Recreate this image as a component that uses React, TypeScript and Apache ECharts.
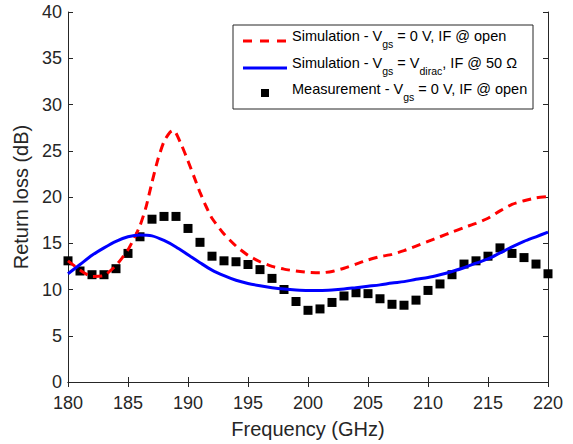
import React, { useEffect, useRef } from "react";
import * as echarts from "echarts";

// Measurement (Vgs = 0 V, IF @ open)
const measFreq = [180, 181, 182, 183, 184, 185, 186, 187, 188, 189, 190, 191, 192, 193, 194, 195, 196, 197, 198, 199, 200, 201, 202, 203, 204, 205, 206, 207, 208, 209, 210, 211, 212, 213, 214, 215, 216, 217, 218, 219, 220];
const measRL = [13.1, 12.0, 11.6, 11.6, 12.25, 13.9, 15.7, 17.6, 17.9, 17.9, 16.6, 15.1, 13.6, 13.1, 13.0, 12.7, 12.15, 11.2, 10.0, 8.7, 7.75, 7.9, 8.6, 9.3, 9.65, 9.55, 9.0, 8.4, 8.3, 8.85, 9.9, 10.6, 11.6, 12.75, 13.1, 13.6, 14.5, 13.9, 13.45, 12.75, 11.7];

// Simulation - Vgs = 0 V, IF @ open
const simOpenFreq = [180, 181, 182, 183, 184, 184.5, 185, 185.5, 186, 186.5, 187, 187.5, 188, 188.5, 188.8, 189, 189.5, 190, 190.5, 191, 191.5, 192, 193, 194, 195, 196, 197, 198, 199, 200, 201, 202, 203, 204, 205, 206, 207, 208, 209, 210, 211, 212, 213, 214, 215, 216, 217, 218, 219, 220];
const simOpenRL = [13.1, 12.1, 11.4, 11.5, 12.6, 13.4, 14.3, 15.5, 16.9, 18.9, 21.6, 24.1, 26.0, 27.0, 27.2, 26.9, 25.5, 23.9, 22.2, 20.5, 19.0, 17.7, 16.0, 14.7, 13.7, 13.0, 12.5, 12.2, 12.0, 11.85, 11.8, 11.95, 12.3, 12.75, 13.2, 13.55, 13.8, 14.2, 14.7, 15.2, 15.7, 16.2, 16.7, 17.15, 17.7, 18.5, 19.2, 19.6, 19.9, 20.05];

// Simulation - Vgs = Vdirac, IF @ 50 Ω
const sim50Freq = [180, 181, 182, 183, 184, 185, 186, 187, 188, 189, 190, 191, 192, 193, 194, 195, 196, 197, 198, 199, 200, 201, 202, 203, 204, 205, 206, 207, 208, 209, 210, 211, 212, 213, 214, 215, 216, 217, 218, 219, 220];
const sim50RL = [11.7, 12.7, 13.7, 14.5, 15.2, 15.7, 15.9, 15.8, 15.3, 14.6, 13.75, 12.9, 12.1, 11.5, 11.0, 10.65, 10.4, 10.2, 10.05, 9.95, 9.9, 9.9, 9.95, 10.05, 10.2, 10.35, 10.5, 10.7, 10.85, 11.1, 11.3, 11.6, 11.95, 12.35, 12.85, 13.3, 13.95, 14.6, 15.2, 15.7, 16.2];

const xMin = 180, xMax = 220, xStep = 5;
const yMin = 0, yMax = 40, yStep = 5;

const FONT = "'Liberation Sans', Arial, Helvetica, sans-serif";
const AX = "#262626";

const zip = (a: number[], b: number[]) => a.map((v, i) => [v, b[i]]);

export default function App() {
  const ref = useRef<HTMLDivElement>(null);
  useEffect(() => {
    const chart = echarts.init(ref.current!, null, { renderer: "svg" });
    const axisCommon = {
      axisLine: { show: true, lineStyle: { color: AX, width: 1 } },
      axisTick: { show: true, inside: true, length: 5, lineStyle: { color: AX, width: 1 } },
      splitLine: { show: false },
    };
    const rich = {
      n: { fontSize: 14.5, fontFamily: FONT, color: "#000", lineHeight: 18 },
      s: { fontSize: 10.5, fontFamily: FONT, color: "#000", lineHeight: 12, padding: [15, 0, 0, 0] },
    };
    const legendText = (y: number, text: string) => ({
      type: "text",
      x: 292,
      y,
      style: { text, rich, verticalAlign: "top", align: "left", fill: "#000" },
    });
    chart.setOption({
      animation: false,
      backgroundColor: "#fff",
      grid: { left: 68, right: 25, top: 12, bottom: 59, containLabel: false },
      xAxis: [
        {
          type: "value", min: xMin, max: xMax, interval: xStep, position: "bottom",
          ...axisCommon,
          axisLabel: { fontSize: 18, color: AX, margin: 12, fontFamily: FONT },
          name: "Frequency (GHz)", nameLocation: "middle", nameGap: 37,
          nameTextStyle: { fontSize: 20, color: AX, fontFamily: FONT },
        },
        {
          type: "value", min: xMin, max: xMax, interval: xStep, position: "top",
          ...axisCommon, axisLabel: { show: false },
        },
      ],
      yAxis: [
        {
          type: "value", min: yMin, max: yMax, interval: yStep, position: "left",
          ...axisCommon,
          axisLabel: { fontSize: 18, color: AX, margin: 6, fontFamily: FONT },
          name: "Return loss (dB)", nameLocation: "middle", nameGap: 30, nameRotate: 90,
          nameTextStyle: { fontSize: 20, color: AX, fontFamily: FONT },
        },
        {
          type: "value", min: yMin, max: yMax, interval: yStep, position: "right",
          ...axisCommon, axisLabel: { show: false },
        },
      ],
      series: [
        {
          name: "Simulation - Vgs = 0 V, IF @ open",
          type: "line", data: zip(simOpenFreq, simOpenRL), showSymbol: false, smooth: 0.2,
          lineStyle: { color: "#ff0000", width: 3, type: [9, 6] },
        },
        {
          name: "Simulation - Vgs = Vdirac, IF @ 50 Ω",
          type: "line", data: zip(sim50Freq, sim50RL), showSymbol: false, smooth: 0.3,
          lineStyle: { color: "#0000ff", width: 3 },
        },
        {
          name: "Measurement - Vgs = 0 V, IF @ open",
          type: "scatter", data: zip(measFreq, measRL), symbol: "rect", symbolSize: 9,
          itemStyle: { color: "#000", opacity: 1 },
        },
      ],
      graphic: [
        {
          type: "group",
          children: [
            { type: "rect", shape: { x: 233, y: 25, width: 300, height: 84 }, style: { fill: "#fff", stroke: AX, lineWidth: 1 } },
            { type: "line", shape: { x1: 243, y1: 41, x2: 287, y2: 41 }, style: { stroke: "#ff0000", lineWidth: 3, lineDash: [9, 8] } },
            { type: "line", shape: { x1: 243, y1: 68, x2: 287, y2: 68 }, style: { stroke: "#0000ff", lineWidth: 3 } },
            { type: "rect", shape: { x: 261, y: 89, width: 8, height: 8 }, style: { fill: "#000" } },
            legendText(27, "{n|Simulation - V}{s|gs}{n| = 0 V, IF @ open}"),
            legendText(54, "{n|Simulation - V}{s|gs}{n| = V}{s|dirac}{n|, IF @ 50 Ω}"),
            legendText(80, "{n|Measurement - V}{s|gs}{n| = 0 V, IF @ open}"),
          ],
        },
      ],
    });
    return () => chart.dispose();
  }, []);
  return <div ref={ref} style={{ width: 573, height: 444, position: "fixed", left: 0, top: 0 }} />;
}
